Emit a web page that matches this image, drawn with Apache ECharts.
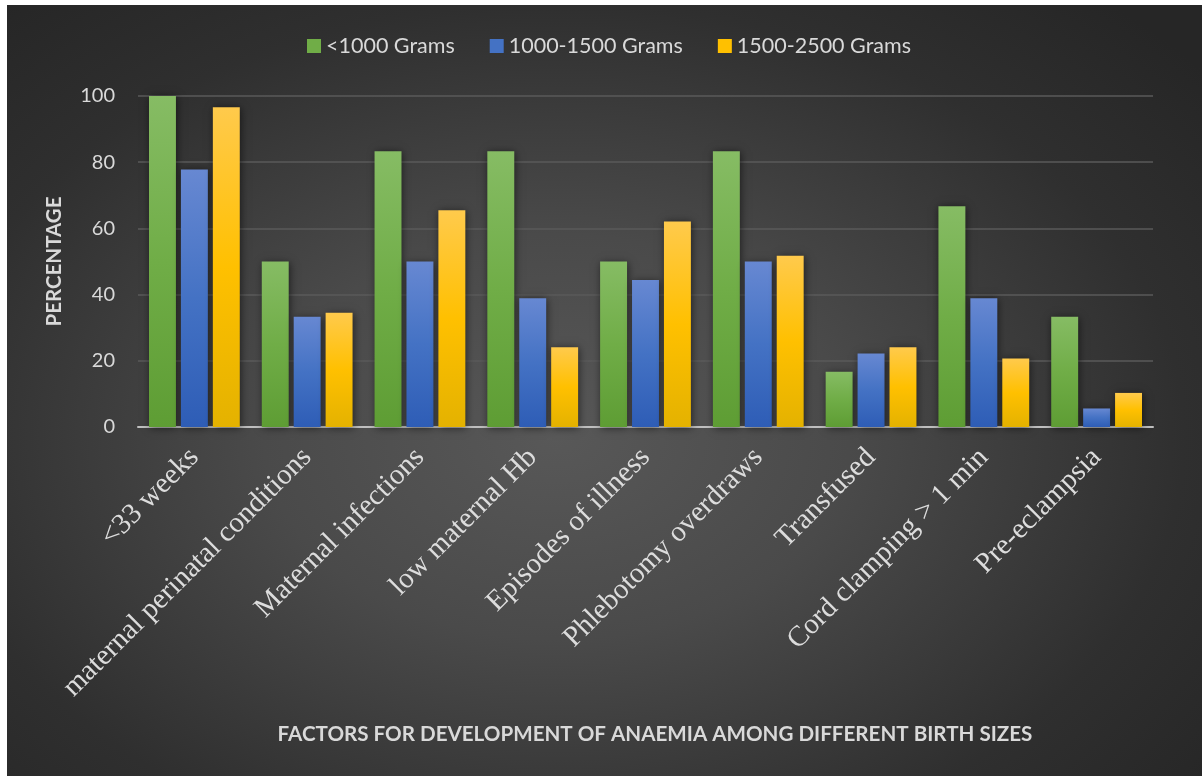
<!DOCTYPE html>
<html>
<head>
<meta charset="utf-8">
<script src="https://cdn.jsdelivr.net/npm/echarts@6/dist/echarts.min.js"></script>
<style>
  html, body { margin: 0; padding: 0; background: #ffffff; width: 1202px; height: 776px; overflow: hidden; }
  #bg { position: absolute; left: 7px; top: 5px; width: 1195px; height: 771px;
        background: radial-gradient(ellipse 70% 75% at 46% 56%, #585858 0%, #4a4a4a 35%, #2f2f2f 75%, #262626 100%); }
  #chart { position: absolute; left: 0; top: 0; width: 1202px; height: 776px; }
</style>
</head>
<body>
<div id="bg"></div>
<div id="chart"></div>
<script>
const categories = ['<33 weeks', 'maternal perinatal conditions', 'Maternal infections', 'low maternal Hb',
  'Episodes of illness', 'Phlebotomy overdraws', 'Transfused', 'Cord clamping > 1 min', 'Pre-eclampsia'];
const seriesNames = ['<1000 Grams', '1000-1500 Grams', '1500-2500 Grams'];
const under1000 = [100, 50, 83.3, 83.3, 50, 83.3, 16.7, 66.7, 33.3];
const from1000to1500 = [77.8, 33.3, 50, 38.9, 44.4, 50, 22.2, 38.9, 5.6];
const from1500to2500 = [96.6, 34.5, 65.5, 24.1, 62.1, 51.7, 24.1, 20.7, 10.3];
const yTicks = { min: 0, max: 100, interval: 20 };
const xTitle = 'FACTORS FOR DEVELOPMENT OF ANAEMIA AMONG DIFFERENT BIRTH SIZES';
const yTitle = 'PERCENTAGE';

function grad(top, mid, bottom) {
  return new echarts.graphic.LinearGradient(0, 0, 0, 1, [
    { offset: 0, color: top }, { offset: 0.5, color: mid }, { offset: 1, color: bottom }
  ]);
}
const fills = [
  grad('#86bc64', '#70ad47', '#5e9d34'),
  grad('#6788d2', '#4472c4', '#2e5db6'),
  grad('#ffca4c', '#ffc000', '#e4b200')
];
const legendColors = ['#70ad47', '#4472c4', '#ffc000'];
const dataSets = [under1000, from1000to1500, from1500to2500];

const chart = echarts.init(document.getElementById('chart'), null, { renderer: 'canvas' });
chart.setOption({
  backgroundColor: 'transparent',
  animation: false,
  legend: {
    left: 302, top: 30,
    itemWidth: 14, itemHeight: 14, itemGap: 35,
    icon: 'rect',
    textStyle: { color: '#d9d9d9', fontFamily: 'Lato', fontSize: 21.5 },
    data: seriesNames.map((n, i) => ({ name: n, itemStyle: { color: legendColors[i] } }))
  },
  grid: { left: 138, right: 49, top: 96, bottom: 349 },
  xAxis: {
    type: 'category',
    data: categories,
    axisLine: { lineStyle: { color: '#bfbfbf', width: 2 } },
    axisTick: { show: false },
    axisLabel: {
      rotate: 45, interval: 0, margin: 26,
      verticalAlign: 'middle',
      padding: [28, 0, 0, 0],
      color: '#dcdcdc', fontFamily: 'Liberation Serif', fontSize: 29
    }
  },
  yAxis: {
    type: 'value',
    min: yTicks.min, max: yTicks.max, interval: yTicks.interval,
    name: yTitle, nameLocation: 'middle', nameGap: 73,
    nameTextStyle: { color: '#d9d9d9', fontFamily: 'Lato', fontWeight: 'bold', fontSize: 20.5 },
    axisLine: { show: false },
    axisTick: { show: false },
    axisLabel: { color: '#d9d9d9', fontFamily: 'Lato', fontSize: 20, margin: 23 },
    splitLine: { lineStyle: { color: '#5a5a5a', width: 1.5 } }
  },
  graphic: [{
    type: 'text', x: 655, y: 734, z: 10,
    style: { text: xTitle, fill: '#d9d9d9', font: 'bold 20.6px Lato', align: 'center', verticalAlign: 'middle' }
  }],
  series: dataSets.map((d, i) => ({
    name: seriesNames[i],
    type: 'bar',
    data: d,
    barGap: '18.5%',
    barCategoryGap: '19.5%',
    itemStyle: {
      color: fills[i],
      shadowColor: 'rgba(0,0,0,0.55)', shadowBlur: 8, shadowOffsetX: 1, shadowOffsetY: 1
    }
  }))
});
</script>
</body>
</html>
